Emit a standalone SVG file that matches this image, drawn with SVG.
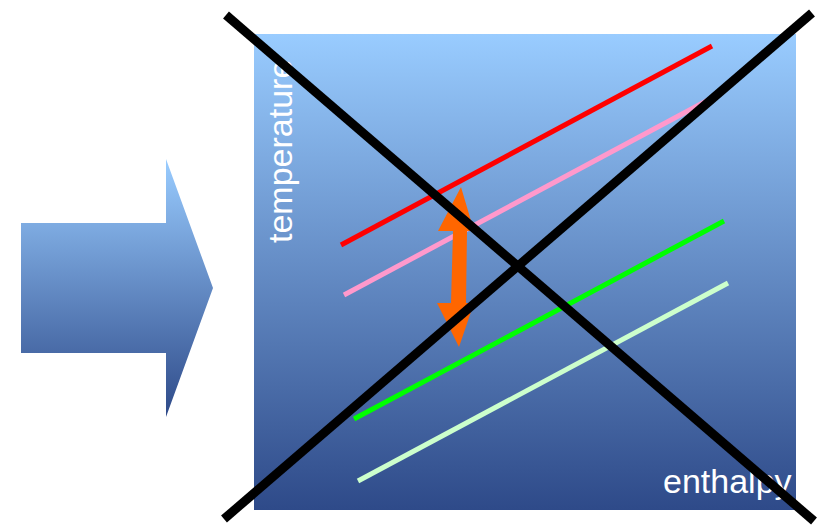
<svg xmlns="http://www.w3.org/2000/svg" width="830" height="529" viewBox="0 0 830 529">
<defs>
<linearGradient id="blueGrad" x1="0" y1="0" x2="0" y2="1">
<stop offset="0" stop-color="#99ccff"/>
<stop offset="1" stop-color="#2e4a89"/>
</linearGradient>
<clipPath id="boxClip"><rect x="254" y="34" width="542" height="476"/></clipPath>
</defs>
<style>
.lbl { font-family: "Liberation Sans", Arial, sans-serif; font-size: 34px; fill: #ffffff; }
.line { stroke-linecap: butt; fill: none; }
.cross { stroke: #000000; stroke-width: 9; stroke-linecap: butt; }
</style>
<g id="big-arrow">
<polygon points="21,223 166,223 166,159 213,288 166,417 166,353 21,353" fill="url(#blueGrad)"/>
</g>
<g id="chart">
<rect x="254" y="34" width="542" height="476" fill="url(#blueGrad)"/>
<g clip-path="url(#boxClip)">
<text class="lbl" transform="translate(292,243) rotate(-90)">temperature</text>
<text class="lbl" x="663" y="493">enthalpy</text>
</g>
</g>
<g id="curves">
<line class="line" x1="341" y1="245" x2="712" y2="46" stroke="#ff0000" stroke-width="5"/>
<line class="line" x1="344" y1="295" x2="712" y2="98" stroke="#ff99cc" stroke-width="5"/>
<line class="line" x1="354" y1="419" x2="724" y2="221" stroke="#00ff00" stroke-width="5"/>
<line class="line" x1="358" y1="481" x2="728" y2="283" stroke="#ccffcc" stroke-width="5"/>
</g>
<g id="double-arrow">
<polygon points="461,187 474,231 467,231 466,303 474,303 459,347 437,303 451,303 453,231 438,231" fill="#ff6600"/>
</g>
<g id="connectors">
<line class="cross" x1="226" y1="15" x2="814" y2="521"/>
<line class="cross" x1="224" y1="519" x2="812" y2="13"/>
</g>
</svg>
